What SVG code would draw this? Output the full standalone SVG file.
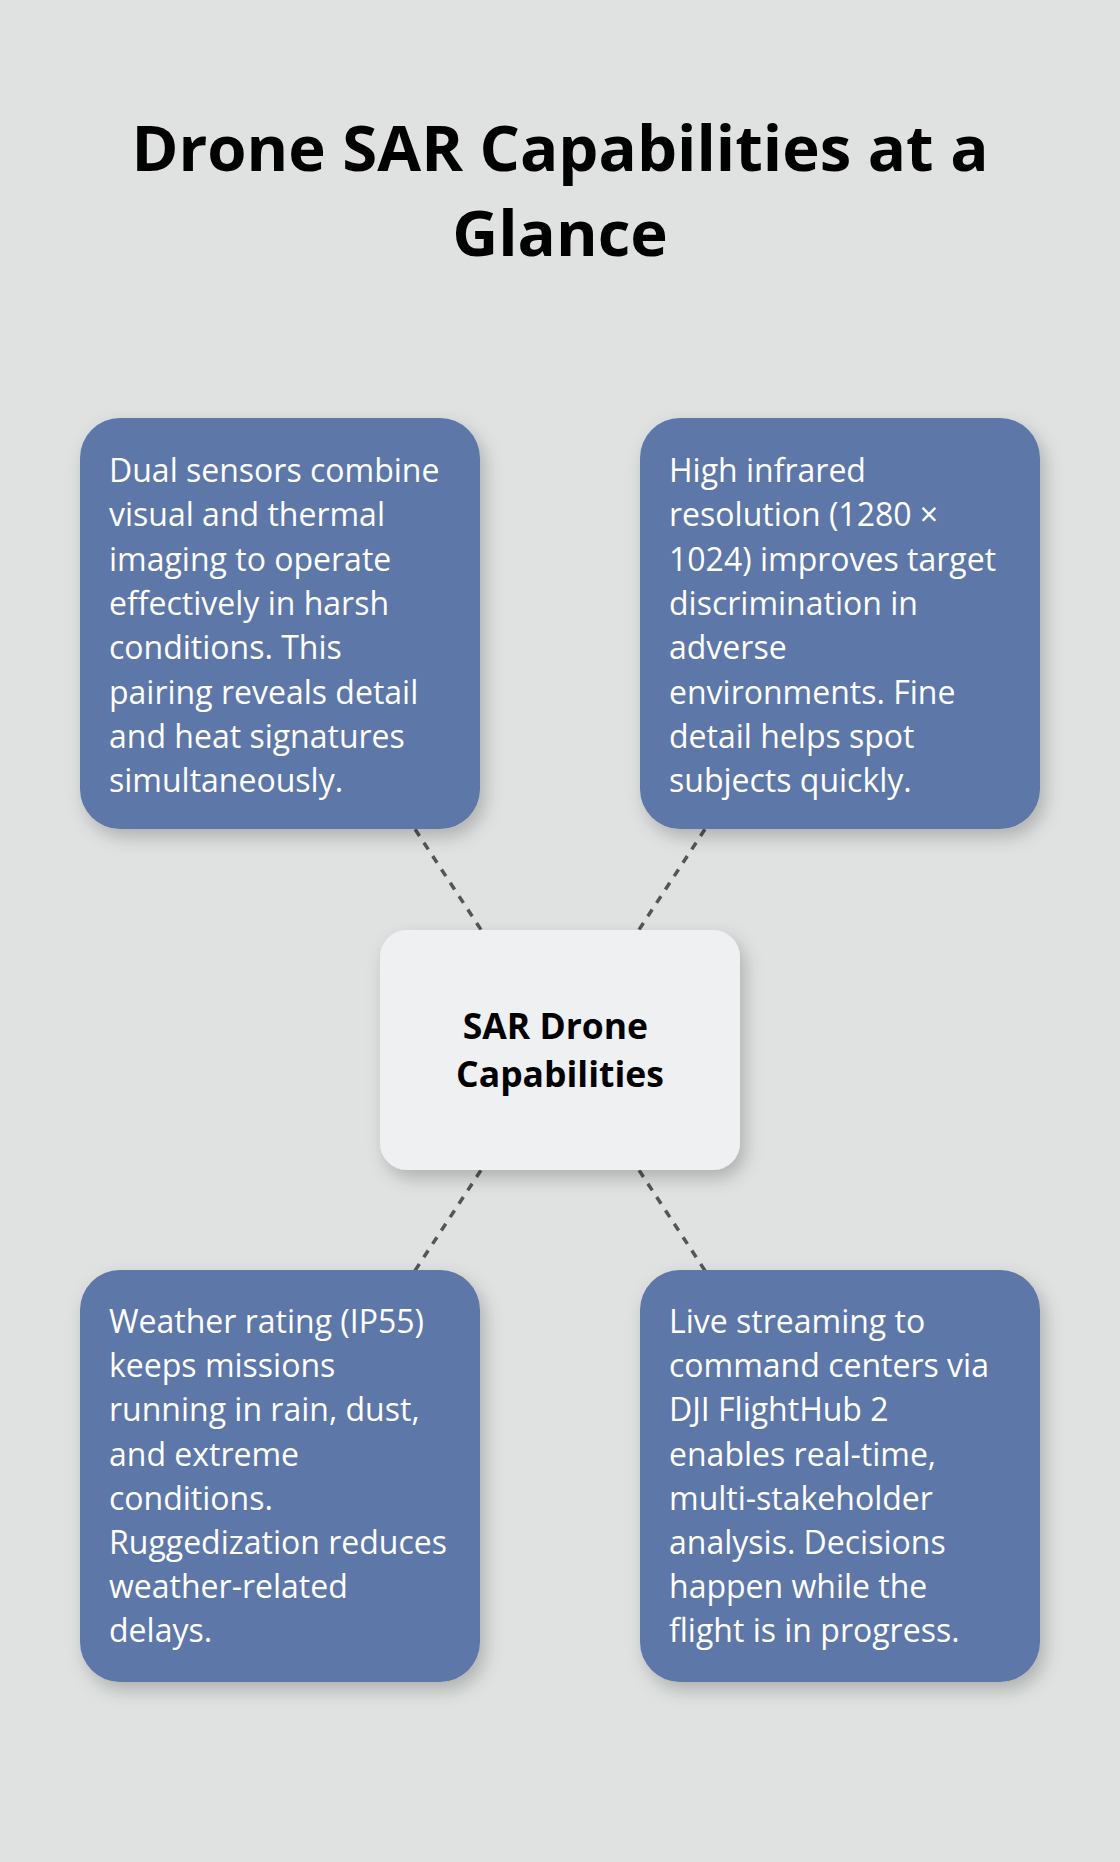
<svg xmlns="http://www.w3.org/2000/svg" width="1120" height="1862" viewBox="0 0 1120 1862">
<defs>
<filter id="sh" x="-20%" y="-20%" width="150%" height="150%">
<feDropShadow dx="5" dy="8" stdDeviation="9" flood-color="#000" flood-opacity="0.22"/>
</filter>
<style>
.bg{fill:#E0E2E1}
.title{font-family:"Open Sans","Liberation Sans",sans-serif;font-weight:700;font-size:63.5px;fill:#000;text-anchor:middle}
.box{fill:#5D77A8;filter:url(#sh)}
.hub{fill:#EFF0F2;filter:url(#sh)}
.body{font-family:"Open Sans","Liberation Sans",sans-serif;font-size:32px;fill:#FFFFFF}
.hubt{font-family:"Open Sans","Liberation Sans",sans-serif;font-weight:700;font-size:35.5px;fill:#000;text-anchor:middle}
.conn{stroke:#555;stroke-width:3.5;stroke-dasharray:8 8;fill:none}
</style>
</defs>
<rect class="bg" x="0" y="0" width="1120" height="1862"/>
<g id="title">
<text class="title" x="560" y="171">Drone SAR Capabilities at a</text>
<text class="title" x="560" y="256">Glance</text>
</g>
<g id="connectors">
<line class="conn" x1="560" y1="1050" x2="280" y2="623.5"/>
<line class="conn" x1="560" y1="1050" x2="840" y2="623.5"/>
<line class="conn" x1="560" y1="1050" x2="280" y2="1476"/>
<line class="conn" x1="560" y1="1050" x2="840" y2="1476"/>
</g>
<g id="node-dual-sensors">
<rect class="box" x="80" y="418" width="400" height="411" rx="40"/>
<text class="body">
<tspan x="109" y="482">Dual sensors combine</tspan>
<tspan x="109" y="526.3">visual and thermal</tspan>
<tspan x="109" y="570.6">imaging to operate</tspan>
<tspan x="109" y="614.9">effectively in harsh</tspan>
<tspan x="109" y="659.2">conditions. This</tspan>
<tspan x="109" y="703.5">pairing reveals detail</tspan>
<tspan x="109" y="747.8">and heat signatures</tspan>
<tspan x="109" y="792.1">simultaneously.</tspan>
</text>
</g>
<g id="node-infrared">
<rect class="box" x="640" y="418" width="400" height="411" rx="40"/>
<text class="body">
<tspan x="669" y="482">High infrared</tspan>
<tspan x="669" y="526.3">resolution (1280 ×</tspan>
<tspan x="669" y="570.6">1024) improves target</tspan>
<tspan x="669" y="614.9">discrimination in</tspan>
<tspan x="669" y="659.2">adverse</tspan>
<tspan x="669" y="703.5">environments. Fine</tspan>
<tspan x="669" y="747.8">detail helps spot</tspan>
<tspan x="669" y="792.1">subjects quickly.</tspan>
</text>
</g>
<g id="node-hub">
<rect class="hub" x="380" y="930" width="360" height="240" rx="27"/>
<text class="hubt">
<tspan x="560" y="1039">SAR Drone</tspan>
<tspan x="560" y="1087">Capabilities</tspan>
</text>
</g>
<g id="node-weather">
<rect class="box" x="80" y="1270" width="400" height="412" rx="40"/>
<text class="body">
<tspan x="109" y="1333">Weather rating (IP55)</tspan>
<tspan x="109" y="1377.2">keeps missions</tspan>
<tspan x="109" y="1421.4">running in rain, dust,</tspan>
<tspan x="109" y="1465.6">and extreme</tspan>
<tspan x="109" y="1509.8">conditions.</tspan>
<tspan x="109" y="1554">Ruggedization reduces</tspan>
<tspan x="109" y="1598.2">weather-related</tspan>
<tspan x="109" y="1642.4">delays.</tspan>
</text>
</g>
<g id="node-streaming">
<rect class="box" x="640" y="1270" width="400" height="412" rx="40"/>
<text class="body">
<tspan x="669" y="1333">Live streaming to</tspan>
<tspan x="669" y="1377.2">command centers via</tspan>
<tspan x="669" y="1421.4">DJI FlightHub 2</tspan>
<tspan x="669" y="1465.6">enables real-time,</tspan>
<tspan x="669" y="1509.8">multi-stakeholder</tspan>
<tspan x="669" y="1554">analysis. Decisions</tspan>
<tspan x="669" y="1598.2">happen while the</tspan>
<tspan x="669" y="1642.4">flight is in progress.</tspan>
</text>
</g>
</svg>
